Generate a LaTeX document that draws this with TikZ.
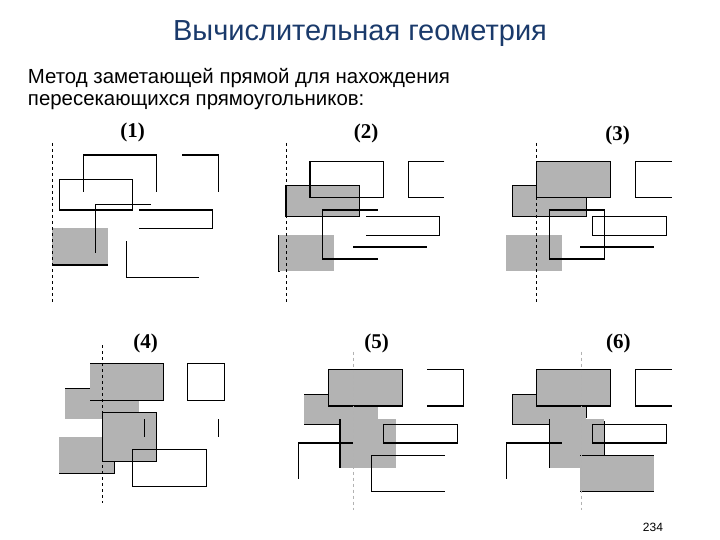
\documentclass[tikz,border=0pt]{standalone}
\usepackage{fontspec}
\setmainfont{Liberation Sans}
\newfontfamily\lblfont{Liberation Serif}
\definecolor{titleblue}{HTML}{1A3A6B}
\definecolor{boxgray}{HTML}{B3B3B3}
\begin{document}
\begin{tikzpicture}[x=1pt,y=-1pt,line width=1.3pt,
  sweep/.style={dashed,line width=1pt,black},
  sweepl/.style={dashed,line width=0.8pt,black!30},
  lbl/.style={font=\lblfont\bfseries\fontsize{21}{23}\selectfont}]
\useasboundingbox (0,0) rectangle (720,540);
\node[text=titleblue,font=\fontsize{29}{32}\selectfont] (title) at (360,34) {Вычислительная геометрия};
\node[anchor=west,align=left,font=\fontsize{20.4}{22}\selectfont] (sub) at (24,89) {Метод заметающей прямой для нахождения\\пересекающихся прямоугольников:};
\node[font=\fontsize{12}{14}\selectfont] (pg) at (653,527) {234};
% Panel 1
\node[lbl] (l1) at (132.7,132) {(1)};
\fill[boxgray] (52.3,228.3) rectangle (108,265);
\draw (52.3,265) -- (108,265);
\draw (83.3,191.7) -- (83.3,155) -- (156.7,155) -- (156.7,191.7);
\draw (182.3,155) -- (218.3,155) -- (218.3,191.7);
\draw (59.3,179.3) rectangle (132.3,210);
\draw (150.7,204.3) -- (95.7,204.3) -- (95.7,252.7);
\draw (139,210) -- (212.3,210) -- (212.3,228.3) -- (139,228.3);
\draw (126.7,241) -- (126.7,277.3) -- (199.3,277.3);
\draw (279,235) -- (279,271.7);
\draw[sweep] (52.3,143) -- (52.3,302);
% Panel 2
\node[lbl] (l2) at (366,133.5) {(2)};
\filldraw[fill=boxgray] (286,185.3) rectangle (359.3,216.3);
\fill[boxgray] (279,235.3) rectangle (334.3,271);
\draw (310,161.3) rectangle (383.3,197.3);
\draw (444.3,161.3) -- (408.3,161.3) -- (408.3,197.3) -- (444.3,197.3);
\draw (377.7,210) -- (322.3,210) -- (322.3,259) -- (377.7,259);
\draw (366.3,216.3) -- (439.3,216.3) -- (439.3,235.3) -- (366.3,235.3);
\draw (353,247) -- (426.7,247);
\draw[sweep] (286,143) -- (286,302);
% Panel 3
\node[lbl] (l3) at (617.7,135) {(3)};
\filldraw[fill=boxgray] (512.3,185.3) rectangle (586.3,216.3);
\filldraw[fill=boxgray] (536.3,161.3) rectangle (610.3,197.3);
\fill[boxgray] (506.3,235.3) rectangle (561.7,271);
\draw (549.3,210) rectangle (604.3,259);
\draw (592.3,216.3) rectangle (666.3,235.3);
\draw (671.7,161.3) -- (635.3,161.3) -- (635.3,197.3) -- (671.7,197.3);
\draw (580.3,247) -- (653.7,247);
\draw[sweep] (536.3,143) -- (536.3,302);
% Panel 4
\node[lbl] (l4) at (145.7,343.3) {(4)};
\fill[boxgray] (65,388.3) rectangle (139,418.7);
\draw (65,388.3) -- (90,388.3);
\fill[boxgray] (90,363.3) rectangle (163.3,400.3);
\draw (90,363.3) -- (163.3,363.3) -- (163.3,400.3) -- (90,400.3);
\fill[boxgray] (59.3,437) rectangle (114.3,473.3);
\draw (59.3,473.3) -- (114.3,473.3) -- (114.3,461.3);
\filldraw[fill=boxgray] (102.3,412.3) rectangle (156.3,461.3);
\draw (132.3,449.3) rectangle (206.3,486.3);
\draw (187.3,363.3) rectangle (224.3,400.3);
\draw (144.3,419) -- (144.3,436.7);
\draw (218.3,419) -- (218.3,436.7);
\draw[sweep] (102.3,345) -- (102.3,503.3);
% Panel 5
\node[lbl] (l5) at (376.7,343.3) {(5)};
\fill[boxgray] (304,394.3) rectangle (377.7,424.3);
\fill[boxgray] (340,419) rectangle (395.7,467.7);
\filldraw[fill=boxgray] (328.3,369.3) rectangle (402.3,406);
\draw (304,394.3) -- (328.3,394.3);
\draw (304,424.3) -- (340,424.3);
\draw (340,419) -- (340,467.7);
\draw[sweepl] (353.3,351.7) -- (353.3,510);
\draw (383.3,424.3) rectangle (457.3,443);
\draw (427,369.3) -- (463.3,369.3) -- (463.3,406) -- (427,406);
\draw (352.7,443) -- (298.3,443) -- (298.3,479.3);
\draw (444.7,455.3) -- (371.3,455.3) -- (371.3,491.7) -- (444.7,491.7);
% Panel 6
\node[lbl] (l6) at (618.3,343.3) {(6)};
\fill[boxgray] (512.3,394.3) rectangle (586.3,424.3);
\fill[boxgray] (549.3,419) rectangle (604.3,467.7);
\fill[boxgray] (580.3,455.3) rectangle (653.7,491.7);
\filldraw[fill=boxgray] (536.3,369.3) rectangle (610.3,406);
\draw (536.3,394.3) -- (512.3,394.3) -- (512.3,424.3) -- (549.3,424.3);
\draw (586.3,406) -- (586.3,418);
\draw (549.3,419) -- (549.3,467.7);
\draw (604.3,421) -- (604.3,455.3);
\draw (580.3,455.3) -- (653.7,455.3);
\draw (580.3,491.7) -- (653.7,491.7);
\draw[sweepl] (581,351.7) -- (581,510);
\draw (592.3,424.3) rectangle (666.3,443);
\draw (671.7,369.3) -- (635.3,369.3) -- (635.3,406) -- (671.7,406);
\draw (561.7,443) -- (506.3,443) -- (506.3,479.3);
\end{tikzpicture}
\end{document}
